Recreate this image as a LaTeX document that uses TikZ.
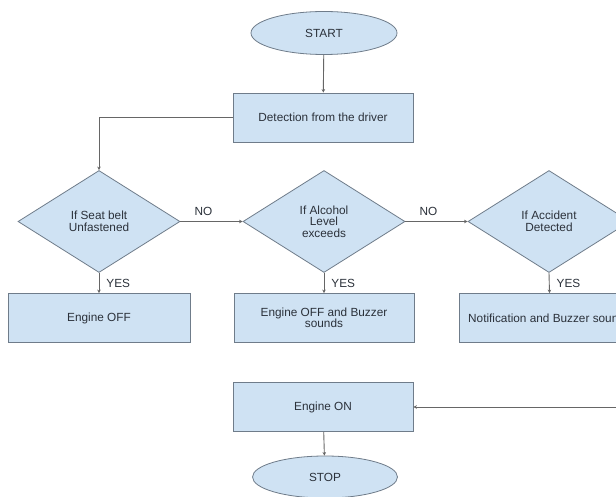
\documentclass[tikz,border=0pt]{standalone}
\usepackage{fontspec}
\setmainfont{Liberation Sans}
\usetikzlibrary{shapes.geometric,arrows.meta}
\definecolor{boxfill}{HTML}{CFE2F3}
\definecolor{boxdraw}{HTML}{6F7C8A}
\definecolor{linecol}{HTML}{666666}
\definecolor{txt}{HTML}{2B313A}
\begin{document}
\begin{tikzpicture}[x=1pt,y=-1pt,
  every node/.style={font=\fontsize{11.8}{11.5}\selectfont, text=txt},
  base/.style={draw=boxdraw, fill=boxfill, line width=0.8pt, inner sep=0pt},
  rectbox/.style={base, rectangle, minimum width=180pt, minimum height=49pt, align=center},
  oval/.style={base, ellipse, minimum width=146pt, minimum height=43pt},
  decision/.style={base, diamond, minimum width=162pt, minimum height=102pt, align=center},
  arr/.style={draw=linecol, line width=0.9pt, -{Stealth[length=3.5pt,width=3.5pt]}},
  lbl/.style={font=\fontsize{11.8}{11.5}\selectfont, text=txt, inner sep=0pt}
]
\fill[white] (0,0) rectangle (616,497);
\useasboundingbox (0,0) rectangle (616,497);
\clip (0,0) rectangle (616,497);

\node[oval] (start) at (324,33) {START};
\node[rectbox] (detect) at (323,117.5) {Detection from the driver};
\node[decision] (d1) at (99,221.5) {If Seat belt\\[0.6pt]Unfastened};
\node[decision] (d2) at (324,221.5) {If Alcohol\\Level\\exceeds};
\node[decision] (d3) at (549,221.5) {If Accident\\[0.6pt]Detected};
\node[rectbox, minimum width=182pt] (b1) at (99,318) {Engine OFF};
\node[rectbox] (b2) at (324,318) {Engine OFF and Buzzer\\sounds};
\node[rectbox, minimum width=181pt] (b3) at (549.5,318) {Notification and Buzzer sounds};
\node[rectbox] (on) at (323,407) {Engine ON};
\node[oval, minimum width=145pt, minimum height=42pt] (stop) at (325,477) {STOP};
\coordinate (rightend) at (640,407);

\draw[arr] (start) -- (detect);
\draw[arr] (detect.west) -| (d1.north);
\draw[arr] (d1.east) -- node[lbl, pos=0.37, yshift=10.5pt] {NO} (d2.west);
\draw[arr] (d2.east) -- node[lbl, pos=0.37, yshift=10.5pt] {NO} (d3.west);
\draw[arr] (d1.south) -- node[lbl, anchor=west, xshift=7pt] {YES} (b1.north);
\draw[arr] (d2.south) -- node[lbl, anchor=west, xshift=7pt] {YES} (b2.north);
\draw[arr] (d3.south) -- node[lbl, anchor=west, xshift=7pt] {YES} (b3.north);
\draw[arr] (rightend) -- (on.east);
\draw[arr] (on) -- (stop);
\end{tikzpicture}
\end{document}
